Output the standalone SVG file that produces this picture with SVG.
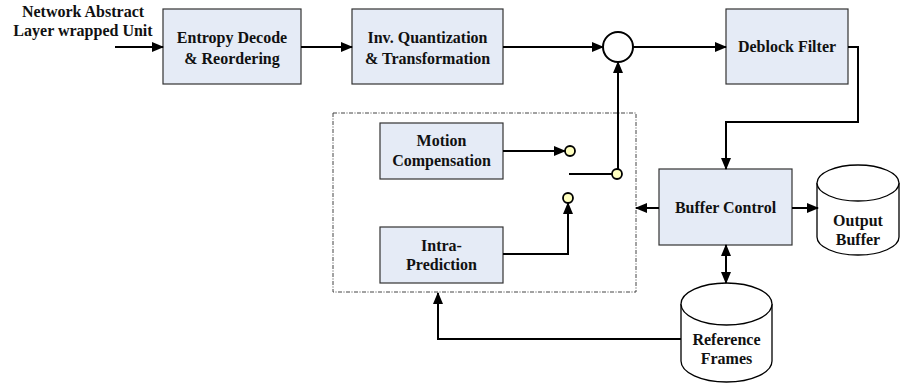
<svg xmlns="http://www.w3.org/2000/svg" width="903" height="385" viewBox="0 0 903 385">
<defs>
<marker id="ah" markerUnits="userSpaceOnUse" markerWidth="12" markerHeight="10" refX="11" refY="5" orient="auto-start-reverse" viewBox="0 0 12 10">
<path d="M0,0 L12,5 L0,10 Z" fill="#000"/>
</marker>
</defs>
<style>
.box{fill:#E5EBF6;stroke:#333;stroke-width:1.2}
.t{font-family:"Liberation Serif","Times New Roman",serif;font-weight:bold;font-size:16px;fill:#111;text-anchor:middle}
.c{fill:none;stroke:#000;stroke-width:2}
.cyl{fill:#fff;stroke:#000;stroke-width:1.3}
.sw{fill:#FFFFC0;stroke:#000;stroke-width:1.8}
</style>
<rect width="903" height="385" fill="#fff"/>
<g id="input-label">
<text class="t" x="83" y="17">Network Abstract</text>
<text class="t" x="83" y="36">Layer wrapped Unit</text>
</g>
<g id="entropy">
<rect class="box" x="163" y="9" width="138" height="75"/>
<text class="t" x="232" y="43">Entropy Decode</text>
<text class="t" x="232" y="64">&amp; Reordering</text>
</g>
<g id="invquant">
<rect class="box" x="352" y="9" width="151" height="75"/>
<text class="t" x="427.5" y="43">Inv. Quantization</text>
<text class="t" x="427.5" y="64">&amp; Transformation</text>
</g>
<g id="sum">
<circle cx="618" cy="47" r="15" fill="#fff" stroke="#000" stroke-width="2"/>
</g>
<g id="deblock">
<rect class="box" x="726" y="9" width="122" height="75"/>
<text class="t" x="787" y="52">Deblock Filter</text>
</g>
<g id="prediction-group">
<rect x="333" y="113" width="303" height="179" fill="none" stroke="#444" stroke-width="1" stroke-dasharray="4,1.5,1,1.5"/>
</g>
<g id="motion">
<rect class="box" x="380" y="123" width="123" height="56"/>
<text class="t" x="441.5" y="146">Motion</text>
<text class="t" x="441.5" y="166">Compensation</text>
</g>
<g id="intra">
<rect class="box" x="380" y="227" width="123" height="56"/>
<text class="t" x="441.5" y="251">Intra-</text>
<text class="t" x="441.5" y="270">Prediction</text>
</g>
<g id="buffer-control">
<rect class="box" x="659" y="169" width="133" height="76"/>
<text class="t" x="725.5" y="213">Buffer Control</text>
</g>
<g id="output-buffer">
<path class="cyl" d="M817,183 L817,237 A41,18 0 0 0 899,237 L899,183 A41,18 0 0 0 817,183 Z"/>
<path class="cyl" d="M817,183 A41,18 0 0 0 899,183" fill="none"/>
<text class="t" x="858" y="226">Output</text>
<text class="t" x="858" y="245">Buffer</text>
</g>
<g id="reference-frames">
<path class="cyl" d="M681,304 L681,361 A45.5,21 0 0 0 772,361 L772,304 A45.5,21 0 0 0 681,304 Z"/>
<path class="cyl" d="M681,304 A45.5,21 0 0 0 772,304" fill="none"/>
<text class="t" x="726.5" y="345">Reference</text>
<text class="t" x="726.5" y="364">Frames</text>
</g>
<g id="connectors">
<line class="c" x1="115" y1="47" x2="163" y2="47" marker-end="url(#ah)"/>
<line class="c" x1="301" y1="47" x2="352" y2="47" marker-end="url(#ah)"/>
<line class="c" x1="503" y1="47" x2="603" y2="47" marker-end="url(#ah)"/>
<line class="c" x1="633" y1="47" x2="726" y2="47" marker-end="url(#ah)"/>
<polyline class="c" points="848,47 858,47 858,122 726,122 726,169" marker-end="url(#ah)"/>
<line class="c" x1="503" y1="151" x2="565" y2="151" marker-end="url(#ah)"/>
<line class="c" x1="569" y1="174" x2="612" y2="174"/>
<line class="c" x1="618" y1="169" x2="618" y2="62" marker-end="url(#ah)"/>
<polyline class="c" points="503,254 568,254 568,203" marker-end="url(#ah)"/>
<line class="c" x1="659" y1="208" x2="636" y2="208" marker-end="url(#ah)"/>
<line class="c" x1="792" y1="208" x2="818" y2="208" marker-end="url(#ah)"/>
<line class="c" x1="726" y1="245" x2="726" y2="283" marker-start="url(#ah)" marker-end="url(#ah)"/>
<polyline class="c" points="681,339 438,339 438,293" marker-end="url(#ah)"/>
</g>
<g id="switch">
<circle class="sw" cx="570" cy="151" r="5"/>
<circle class="sw" cx="617" cy="174" r="5"/>
<circle class="sw" cx="568" cy="198" r="5"/>
</g>
</svg>
